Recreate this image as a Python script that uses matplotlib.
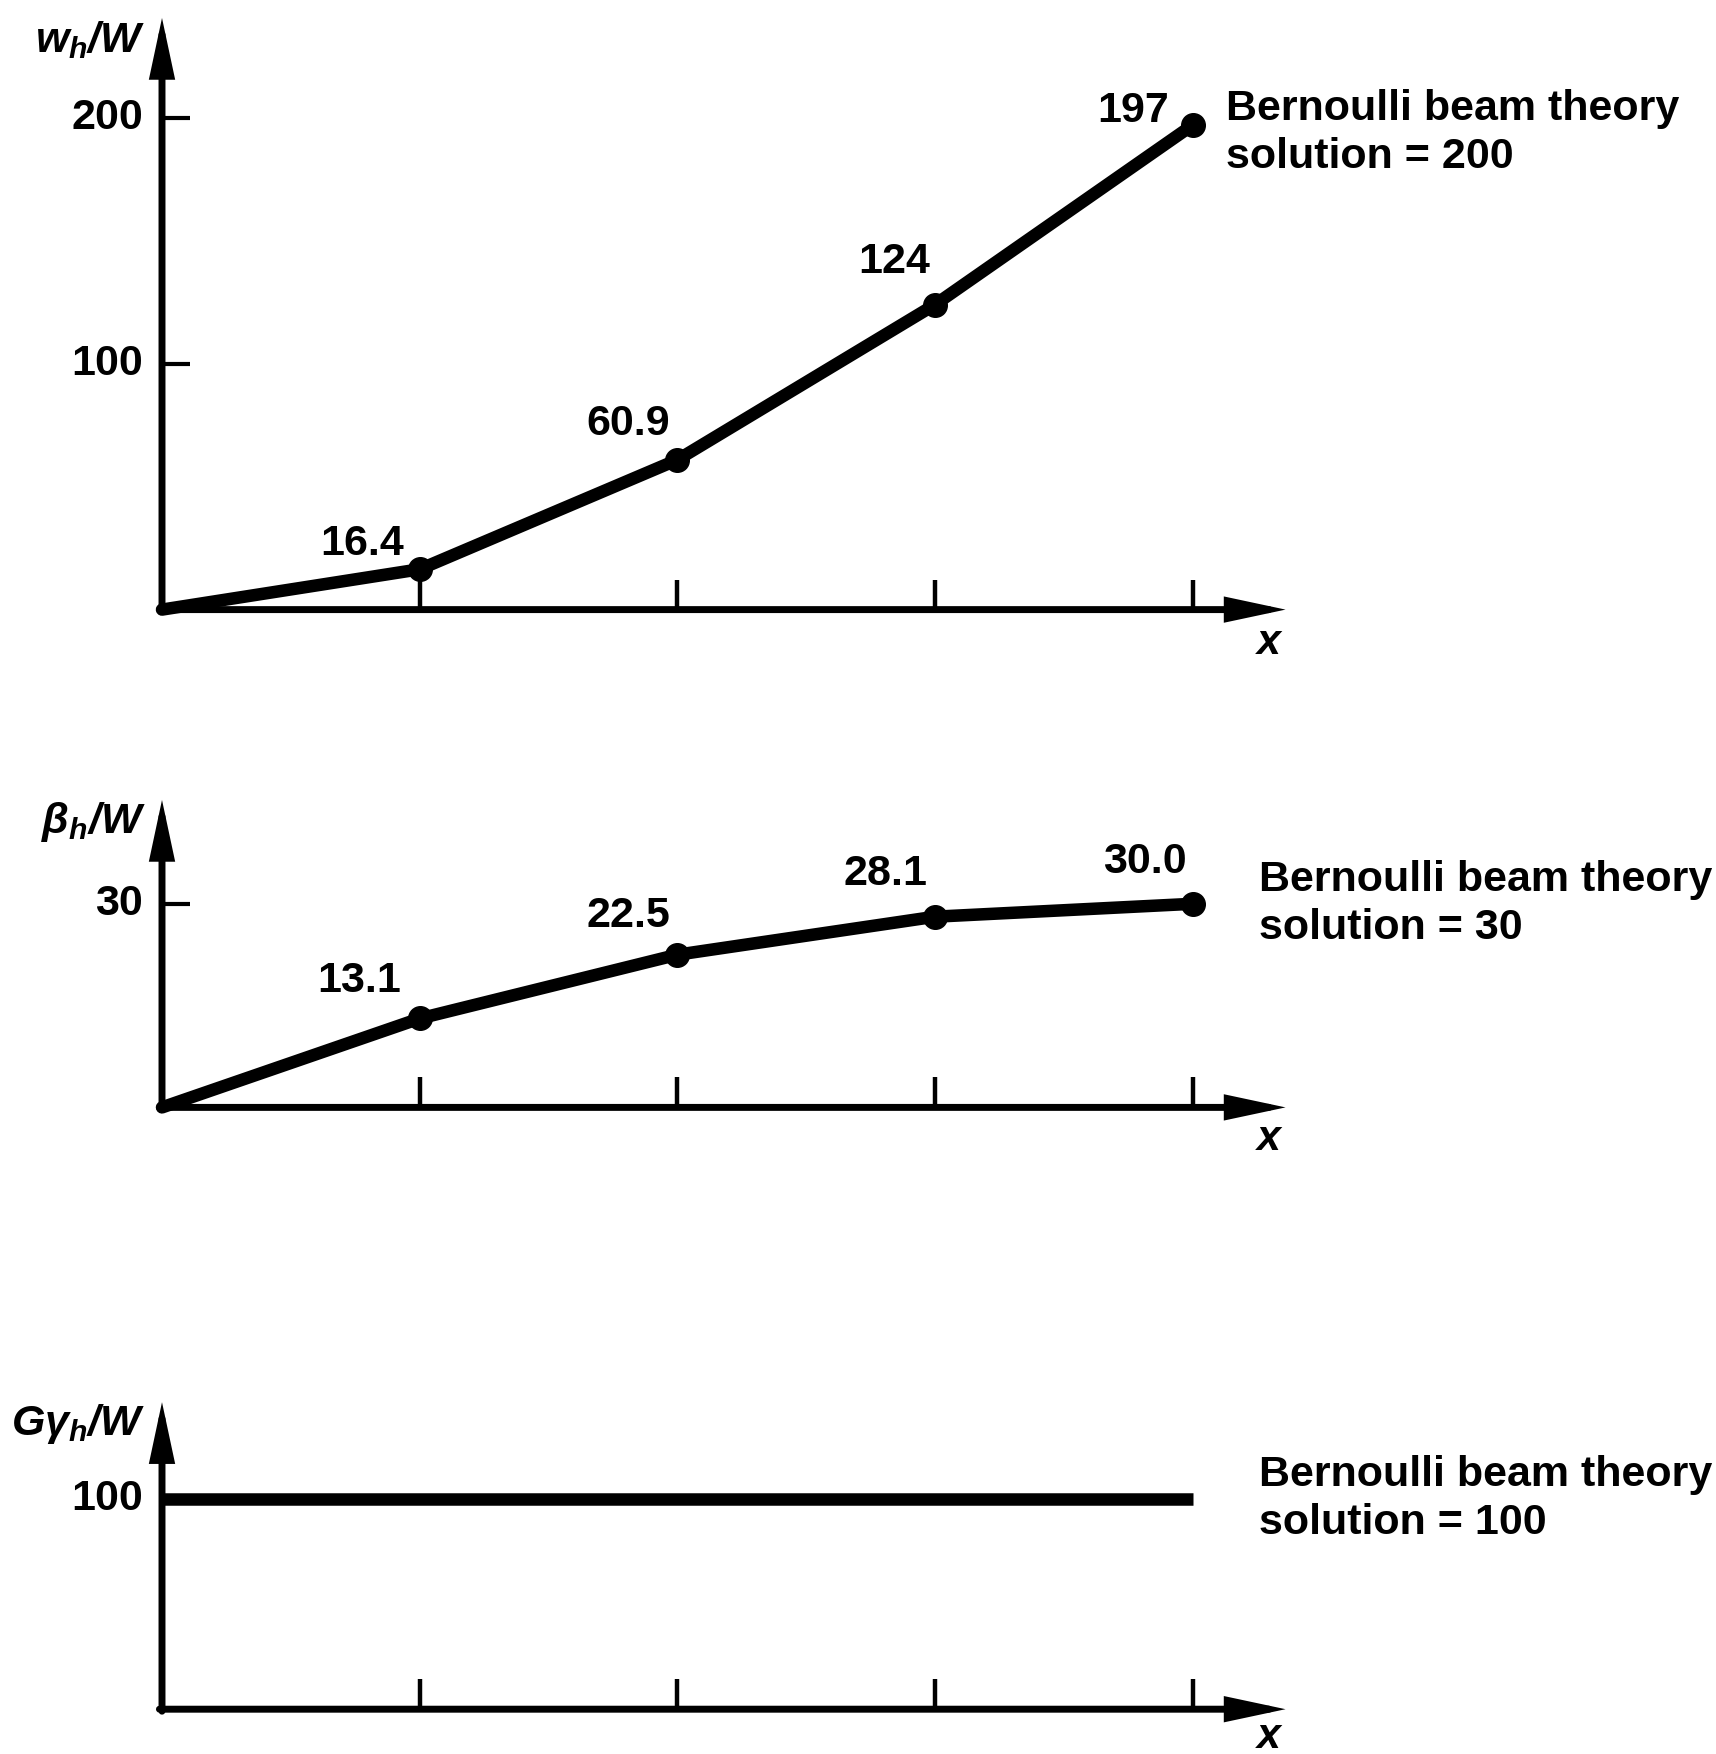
import matplotlib.pyplot as plt
import numpy as np

# --- данные (значения с рисунка) ---
x_nodes = [0, 1, 2, 3, 4]
w_values = [0, 16.4, 60.9, 124, 197]
beta_values = [0, 13.1, 22.5, 28.1, 30.0]
gamma_x = [0, 4]
gamma_values = [100, 100]

w_labels = ['16.4', '60.9', '124', '197']
beta_labels = ['13.1', '22.5', '28.1', '30.0']

w_ticks = [100, 200]
beta_ticks = [30]
gamma_ticks = [100]

bernoulli_w = 'Bernoulli beam theory\nsolution = 200'
bernoulli_beta = 'Bernoulli beam theory\nsolution = 30'
bernoulli_gamma = 'Bernoulli beam theory\nsolution = 100'

W_PX, H_PX = 1716, 1754
X0_PX = 162.0          # положение оси y (пиксели)
X_SCALE = 257.7        # пикселей на единицу x
FS = 31
LW_DATA = 9.0
LW_AXIS = 5.0

plt.rcParams['font.family'] = ['Liberation Sans', 'DejaVu Sans']
plt.rcParams['font.weight'] = 'bold'
plt.rcParams['mathtext.fontset'] = 'custom'
plt.rcParams['mathtext.it'] = 'Liberation Sans:italic:bold'
plt.rcParams['mathtext.rm'] = 'Liberation Sans:italic:bold'
plt.rcParams['mathtext.bf'] = 'Liberation Sans:bold'

fig = plt.figure(figsize=(W_PX / 100, H_PX / 100), dpi=100)


def make_panel(y0_px, ppu, ytop, ylabel, ticks, xlabel_dy):
    """Оси на весь рисунок, масштаб подобран так, чтобы начало было в y0_px"""
    ax = fig.add_axes([0, 0, 1, 1])
    ax.set_xlim(-X0_PX / X_SCALE, (W_PX - X0_PX) / X_SCALE)
    ax.set_ylim(-(H_PX - y0_px) / ppu, y0_px / ppu)
    ax.axis('off')
    ax.patch.set_alpha(0)

    arrow = dict(arrowstyle='-|>,head_length=1.5,head_width=0.32',
                 mutation_scale=20, lw=LW_AXIS, color='black',
                 shrinkA=0, shrinkB=0, joinstyle='miter')
    # ось y и ось x со стрелками
    ax.annotate('', xy=(0, ytop), xytext=(0, -2 / ppu), arrowprops=arrow)
    ax.annotate('', xy=(4.36, 0), xytext=(-0.01, 0), arrowprops=arrow)

    # деления по x (вверх)
    for xt in x_nodes[1:]:
        ax.plot([xt, xt], [0, 30 / ppu], color='black', lw=3.2,
                solid_capstyle='butt')
    # деления по y (вправо)
    for yt in ticks:
        ax.plot([0, 28 / X_SCALE], [yt, yt], color='black', lw=3.0,
                solid_capstyle='butt')
        ax.annotate(str(yt), xy=(0, yt), xytext=(-19, 0),
                    textcoords='offset pixels', ha='right', va='center',
                    fontsize=FS)

    ax.annotate(ylabel, xy=(0, ytop), xytext=(-16, -22),
                textcoords='offset pixels', ha='right', va='center',
                fontsize=31)
    ax.annotate(r'$x$', xy=(4.35, 0), xytext=(-13, xlabel_dy),
                textcoords='offset pixels', ha='center', va='center',
                fontsize=31)
    return ax


# --- верхний график: w_h/W ---
ax1 = make_panel(609.6, 2.46, 240.5, r'$w_h/W$', w_ticks, -33)
ax1.plot(x_nodes, w_values, color='black', lw=LW_DATA, marker='o', ms=17,
         markevery=[1, 2, 3, 4], solid_capstyle='round')
offsets1 = [(-58, 25), (-49, 36), (-41, 43), (-60, 14)]
for xv, yv, lab, off in zip(x_nodes[1:], w_values[1:], w_labels, offsets1):
    ax1.annotate(lab, xy=(xv, yv), xytext=off, textcoords='offset pixels',
                 ha='center', va='center', fontsize=FS)
ax1.annotate(bernoulli_w, xy=(x_nodes[-1], w_values[-1]), xytext=(33, -8),
             textcoords='offset pixels', ha='left', va='center',
             fontsize=FS, linespacing=1.25)

# --- средний график: beta_h/W ---
ax2 = make_panel(1107.4, 6.787, 45.3, r'$\beta_h/W$', beta_ticks, -32)
ax2.plot(x_nodes, beta_values, color='black', lw=LW_DATA, marker='o', ms=17,
         markevery=[1, 2, 3, 4], solid_capstyle='round')
offsets2 = [(-61, 37), (-49, 39), (-50, 43), (-48, 42)]
for xv, yv, lab, off in zip(x_nodes[1:], beta_values[1:], beta_labels, offsets2):
    ax2.annotate(lab, xy=(xv, yv), xytext=off, textcoords='offset pixels',
                 ha='center', va='center', fontsize=FS)
ax2.annotate(bernoulli_beta, xy=(x_nodes[-1], beta_values[-1]), xytext=(66, 0),
             textcoords='offset pixels', ha='left', va='center',
             fontsize=FS, linespacing=1.25)

# --- нижний график: G gamma_h/W ---
ax3 = make_panel(1709.2, 2.103, 146, r'$G\gamma_h/W$', gamma_ticks, -28)
ax3.plot(gamma_x, gamma_values, color='black', lw=LW_DATA, solid_capstyle='butt')
ax3.annotate(bernoulli_gamma, xy=(gamma_x[-1], gamma_values[-1]), xytext=(66, 0),
             textcoords='offset pixels', ha='left', va='center',
             fontsize=FS, linespacing=1.25)

fig.savefig('out.png', dpi=100)
